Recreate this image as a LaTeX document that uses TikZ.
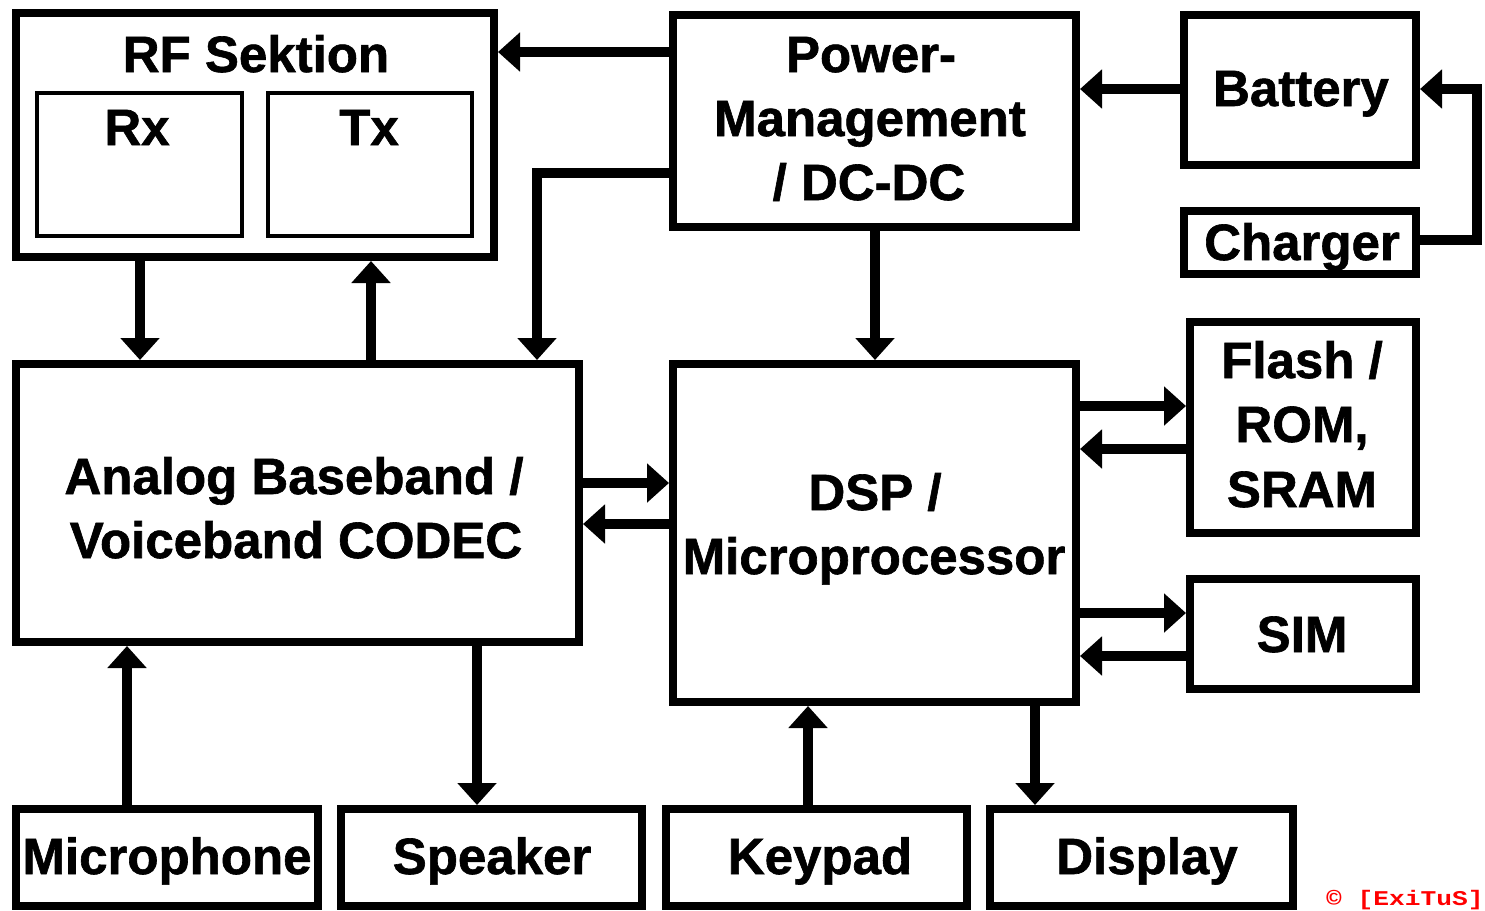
\documentclass[tikz,border=0pt]{standalone}
\usepackage{fontspec}
\setmainfont{Liberation Sans}[BoldFeatures={FakeBold=1.2}]
\newfontfamily\cpfont{Liberation Mono}
\usetikzlibrary{arrows.meta}
\tikzset{
  box/.style={draw=black, line width=8pt, rectangle, inner sep=0pt, fill=white},
  inbox/.style={draw=black, line width=3.5pt, rectangle, inner sep=0pt},
  lbl/.style={anchor=base, inner sep=0pt, font=\fontsize{51}{64}\selectfont\bfseries},
  arr/.style={line width=10pt, draw=black, line join=miter, -{Triangle[length=22pt,width=38pt]}},
}
\begin{document}
\begin{tikzpicture}[x=1pt,y=-1pt]
\useasboundingbox[fill=white] (0,0) rectangle (1485,910);
% boxes
\node[box, minimum width=478pt, minimum height=244pt] (rf) at (255,135) {};
\node[inbox, minimum width=205pt, minimum height=143pt] (rx) at (139.5,164.5) {};
\node[inbox, minimum width=204pt, minimum height=143pt] (tx) at (370,164.5) {};
\node[box, minimum width=403pt, minimum height=212pt] (power) at (874.5,121) {};
\node[box, minimum width=232pt, minimum height=150pt] (battery) at (1300,90) {};
\node[box, minimum width=232pt, minimum height=63pt] (charger) at (1300,242.5) {};
\node[box, minimum width=563pt, minimum height=278pt] (analog) at (297.5,503) {};
\node[box, minimum width=403pt, minimum height=338pt] (dsp) at (874.5,533) {};
\node[box, minimum width=226pt, minimum height=211pt] (flash) at (1303,427.5) {};
\node[box, minimum width=226pt, minimum height=110pt] (sim) at (1303,634) {};
\node[box, minimum width=302pt, minimum height=97pt] (mic) at (167,857.5) {};
\node[box, minimum width=301pt, minimum height=97pt] (spk) at (491.5,857.5) {};
\node[box, minimum width=301pt, minimum height=97pt] (key) at (816.5,857.5) {};
\node[box, minimum width=303pt, minimum height=97pt] (disp) at (1141.5,857.5) {};
% labels
\node[lbl] (rft) at (256,72) {RF Sektion};
\node[lbl] (rxt) at (137,145) {Rx};
\node[lbl] (txt) at (369,145) {Tx};
\node[lbl] (pw1) at (871,72) {Power-};
\node[lbl] (pw2) at (870,136) {Management};
\node[lbl] (pw3) at (869,200) {/ DC-DC};
\node[lbl] (bat) at (1301,106) {Battery};
\node[lbl] (chg) at (1302,260) {Charger};
\node[lbl] (an1) at (294,494) {Analog Baseband /};
\node[lbl] (an2) at (296,558) {Voiceband CODEC};
\node[lbl] (ds1) at (875,510) {DSP /};
\node[lbl] (ds2) at (874,574) {Microprocessor};
\node[lbl] (fl1) at (1302,378) {Flash /};
\node[lbl] (fl2) at (1302,442) {ROM,};
\node[lbl] (fl3) at (1302,507) {SRAM};
\node[lbl] (simt) at (1302,652) {SIM};
\node[lbl] (mict) at (167,874) {Microphone};
\node[lbl] (spkt) at (492,874) {Speaker};
\node[lbl] (keyt) at (820,874) {Keypad};
\node[lbl] (dispt) at (1147,874) {Display};
\node[anchor=base east, inner sep=0pt, text=red, font=\cpfont\bfseries\fontsize{21}{21}\selectfont, xscale=1.25] (copy) at (1484,905) {© [ExiTuS]};
% connectors
\coordinate (loop) at (1477,89);
\draw[arr] (power.west |- 0,52) -- (rf.east |- 0,52);
\draw[arr] (power.west |- 0,173) -| (analog.north -| 537,0);
\draw[arr] (power.south -| 875,0) -- (dsp.north -| 875,0);
\draw[arr] (battery.west |- 0,89) -- (power.east |- 0,89);
\draw[arr] (charger.east |- 0,240) -| (loop) -- (battery.east |- loop);
\draw[arr] (rf.south -| 140,0) -- (analog.north -| 140,0);
\draw[arr] (analog.north -| 371,0) -- (rf.south -| 371,0);
\draw[arr] (analog.east |- 0,483) -- (dsp.west |- 0,483);
\draw[arr] (dsp.west |- 0,524) -- (analog.east |- 0,524);
\draw[arr] (dsp.east |- 0,406) -- (flash.west |- 0,406);
\draw[arr] (flash.west |- 0,449) -- (dsp.east |- 0,449);
\draw[arr] (dsp.east |- 0,613) -- (sim.west |- 0,613);
\draw[arr] (sim.west |- 0,656) -- (dsp.east |- 0,656);
\draw[arr] (mic.north -| 127,0) -- (analog.south -| 127,0);
\draw[arr] (analog.south -| 477,0) -- (spk.north -| 477,0);
\draw[arr] (key.north -| 808,0) -- (dsp.south -| 808,0);
\draw[arr] (dsp.south -| 1035,0) -- (disp.north -| 1035,0);
\end{tikzpicture}
\end{document}
